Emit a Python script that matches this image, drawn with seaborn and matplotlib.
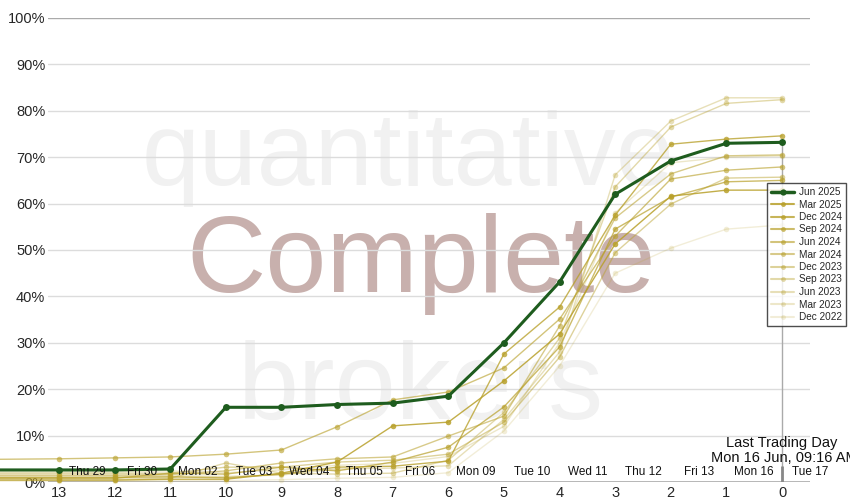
import matplotlib
matplotlib.use("Agg")
import matplotlib.pyplot as plt
import seaborn as sns
import pandas as pd
from matplotlib.lines import Line2D

# trading days left before the deadline (offscreen 15 keeps the lines running to the edge)
days = [15, 13, 12, 11, 10, 9, 8, 7, 6, 5, 4, 3, 2, 1, 0]
date_labels = ["Thu 29", "Fri 30", "Mon 02", "Tue 03", "Wed 04", "Thu 05", "Fri 06",
               "Mon 09", "Tue 10", "Wed 11", "Thu 12", "Fri 13", "Mon 16", "Tue 17"]
date_pos = [12.5, 11.5, 10.5, 9.5, 8.5, 7.5, 6.5, 5.5, 4.5, 3.5, 2.5, 1.5, 0.5, -0.5]

jun_2025 = [2.6, 2.6, 2.6, 2.8, 16.1, 16.1, 16.7, 17.0, 18.5, 30.0, 43.1, 62.0, 69.2, 73.0, 73.2]
mar_2025 = [0.4, 0.4, 0.4, 0.6, 0.6, 1.9, 4.3, 12.1, 12.9, 21.8, 31.9, 51.3, 61.6, 62.9, 62.9]
dec_2024 = [1.0, 1.0, 1.0, 1.1, 0.9, 1.7, 3.2, 3.4, 4.5, 27.6, 37.7, 57.5, 72.8, 73.9, 74.6]
sep_2024 = [0.8, 0.8, 0.8, 1.9, 1.7, 3.2, 2.4, 4.3, 7.5, 16.2, 29.1, 54.5, 61.4, 64.7, 65.0]
jun_2024 = [4.8, 5.0, 5.2, 5.4, 6.0, 6.9, 11.9, 17.7, 19.4, 24.6, 35.1, 53.0, 65.3, 67.2, 67.9]
mar_2024 = [1.5, 1.5, 1.5, 1.6, 2.4, 4.1, 5.0, 5.4, 9.9, 14.2, 33.6, 56.9, 66.4, 70.3, 70.5]
dec_2023 = [1.9, 1.9, 1.9, 1.9, 3.2, 3.2, 4.3, 4.7, 6.0, 12.9, 26.9, 49.4, 59.9, 65.5, 65.7]
sep_2023 = [0.6, 0.6, 0.6, 0.8, 4.1, 1.9, 1.7, 1.9, 4.7, 15.0, 31.0, 63.6, 76.5, 81.6, 82.4]
jun_2023 = [1.3, 1.3, 1.3, 1.3, 1.2, 1.5, 2.8, 3.0, 3.5, 13.5, 28.0, 66.2, 77.8, 82.8, 82.8]
mar_2023 = [2.2, 2.2, 2.2, 2.4, 2.0, 2.6, 3.6, 4.0, 5.5, 12.0, 30.0, 58.0, 68.8, 70.0, 70.3]
dec_2022 = [0.2, 0.2, 0.2, 0.3, 0.3, 0.5, 0.8, 1.0, 2.0, 11.0, 25.0, 45.0, 50.4, 54.5, 55.4]

series_names = ["Mar 2025", "Dec 2024", "Sep 2024", "Jun 2024", "Mar 2024", "Dec 2023",
                "Sep 2023", "Jun 2023", "Mar 2023", "Dec 2022"]
series_vals = [mar_2025, dec_2024, sep_2024, jun_2024, mar_2024, dec_2023,
               sep_2023, jun_2023, mar_2023, dec_2022]
series_alpha = [0.85, 0.78, 0.7, 0.62, 0.55, 0.47, 0.4, 0.33, 0.25, 0.18]

green = "#1e5c1e"
gold = "#b8a02a"

sns.set_theme(style="white")
plt.rcParams["font.family"] = ["Liberation Sans", "DejaVu Sans"]

fig = plt.figure(figsize=(8.5, 5), dpi=100)
ax = fig.add_axes([48 / 850, 18 / 500, (810 - 48) / 850, (482 - 18) / 500])

# watermark text
ax.text(0.472, 0.64, "quantitative", transform=ax.transAxes, ha="center", va="baseline",
        fontsize=75, color="#f1f1f1", zorder=0)
ax.text(0.49, 0.41, "Complete", transform=ax.transAxes, ha="center", va="baseline",
        fontsize=79, color="#c8b0ad", zorder=0)
ax.text(0.49, 0.135, "brokers", transform=ax.transAxes, ha="center", va="baseline",
        fontsize=79, color="#f1f1f1", zorder=0)

for y in range(10, 100, 10):
    ax.axhline(y, color="#dcdcdc", lw=1, zorder=1)
ax.axhline(100, color="#aaaaaa", lw=1, zorder=1)
ax.axhline(0, color="#aaaaaa", lw=1.2, zorder=1)

for name, vals, a in reversed(list(zip(series_names, series_vals, series_alpha))):
    df = pd.DataFrame({"days": days, "pct": vals})
    sns.lineplot(data=df, x="days", y="pct", ax=ax, color=gold, alpha=a, lw=1,
                 marker="o", markersize=4, markeredgewidth=0, clip_on=False, zorder=3,
                 sort=False, legend=False)
df_cur = pd.DataFrame({"days": days, "pct": jun_2025})
sns.lineplot(data=df_cur, x="days", y="pct", ax=ax, color=green, lw=2.2, marker="o",
             markersize=5, markeredgewidth=0, clip_on=False, zorder=5, sort=False, legend=False)

handles = [Line2D([], [], color=green, lw=2.5, marker="o", markersize=4.5,
                  markeredgewidth=0, label="Jun 2025")]
for name, a in zip(series_names, series_alpha):
    handles.append(Line2D([], [], color=gold, alpha=a, lw=1.5, marker="o", markersize=3.5,
                          markeredgewidth=0, label=name))

# last trading day marker
ax.vlines(0, 0, jun_2025[-1], color="#aaaaaa", lw=1, zorder=2)
ax.vlines(0, 0, 3.5, color="#888888", lw=2, zorder=2)
ax.text(0, 8.4, "Last Trading Day", ha="center", va="center", fontsize=10.5, color="#111111")
ax.text(-0.05, 5.2, "Mon 16 Jun, 09:16 AM", ha="center", va="center", fontsize=10.5,
        color="#111111")

for lab, pos in zip(date_labels, date_pos):
    ax.text(pos, 2.1, lab, ha="center", va="center", fontsize=8.5, color="#111111", zorder=6)

ax.set_xlim(13.198, -0.503)
ax.set_ylim(0, 100)
ax.set_xticks(range(0, 14))
ax.set_xticklabels([str(i) for i in range(0, 14)], fontsize=10.5)
ax.set_yticks(range(0, 101, 10))
ax.set_yticklabels([f"{v}%" for v in range(0, 101, 10)], fontsize=10.5)
ax.tick_params(axis="both", length=0, pad=3)
ax.tick_params(axis="y", pad=2)
ax.set_xlabel("")
ax.set_ylabel("")
ax.grid(False)
for s in ax.spines.values():
    s.set_visible(False)

leg = fig.legend(handles=handles, loc="upper left", bbox_to_anchor=(767 / 850, 1 - 183 / 500),
                 fontsize=7.2, frameon=True, fancybox=False, edgecolor="#222222",
                 handlelength=2.3, handletextpad=0.5, labelspacing=0.25, borderpad=0.4,
                 borderaxespad=0)
leg.get_frame().set_linewidth(1)

fig.savefig("out.png", dpi=100)
